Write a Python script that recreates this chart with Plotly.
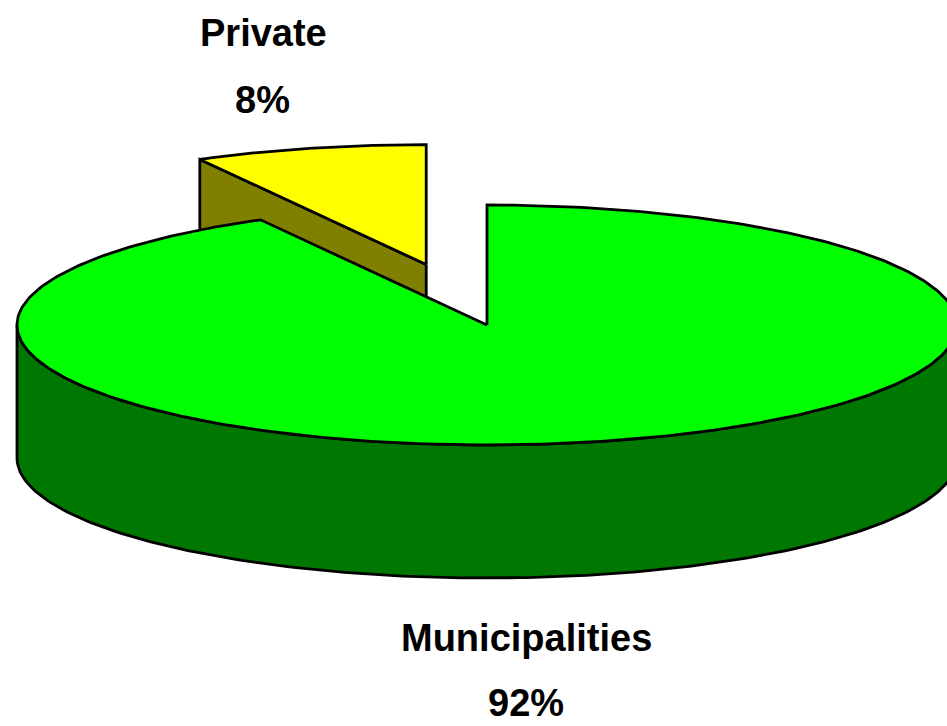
import numpy as np
import plotly.graph_objects as go

# ---- data ----
categories = ["Municipalities", "Private"]
values = [92, 8]
top_colors = ["#00FF00", "#FFFF00"]
side_colors = ["#007700", "#808000"]

# ---- geometry (layout constants, pixels) ----
W, H = 947, 726
cx, cy = 487, 325
rx, ry = 470, 120
depth = 133
explode = {"Private": 0.52, "Municipalities": 0.0}
start = 90.0  # 12 o'clock, counterclockwise

total = sum(values)
order = ["Private", "Municipalities"]
angles = {}
a = start
for name in order:
    v = values[categories.index(name)]
    span = 360.0 * v / total
    angles[name] = (a, a + span)
    a += span


def rim(theta_deg, ox, oy, dz=0.0):
    t = np.radians(theta_deg)
    return ox + cx + rx * np.cos(t), oy + cy - ry * np.sin(t) + dz


def arc(a0, a1, ox, oy, dz=0.0, n=200):
    th = np.linspace(a0, a1, n)
    xs, ys = rim(th, ox, oy, dz)
    return list(xs), list(ys)


def offset(name):
    a0, a1 = angles[name]
    mid = np.radians((a0 + a1) / 2)
    e = explode[name]
    return e * rx * np.cos(mid), -e * ry * np.sin(mid)


fig = go.Figure()


def poly(xs, ys, color):
    fig.add_trace(go.Scatter(
        x=xs + [xs[0]], y=ys + [ys[0]], mode="lines", fill="toself",
        fillcolor=color, line=dict(color="black", width=2.8),
        hoverinfo="skip", showlegend=False))


# Private slice (behind)
i = categories.index("Private")
ox, oy = offset("Private")
a0, a1 = angles["Private"]
vx, vy = cx + ox, cy + oy
rtx, rty = rim(a1, ox, oy)
rbx, rby = rim(a1, ox, oy, depth)
poly([vx, rtx, rbx, vx], [vy, rty, rby, vy + depth], side_colors[i])
xs, ys = arc(a0, a1, ox, oy)
poly([vx] + xs, [vy] + ys, top_colors[i])

# Municipalities slice
i = categories.index("Municipalities")
ox, oy = offset("Municipalities")
a0, a1 = angles["Municipalities"]
w0, w1 = max(a0, 180.0), min(a1, 360.0)
tx, ty = arc(w0, w1, ox, oy)
bx, by = arc(w1, w0, ox, oy, depth)
poly(tx + bx, ty + by, side_colors[i])
vx, vy = cx + ox, cy + oy
xs, ys = arc(a0, a1, ox, oy, n=400)
poly([vx] + xs, [vy] + ys, top_colors[i])

font = dict(family="Liberation Sans, Arial, sans-serif", size=38, color="black")
labels = [("Private", 263, 33), ("8%", 262, 100),
          ("Municipalities", 526, 638), ("92%", 526, 703)]
for txt, x, y in labels:
    fig.add_annotation(x=x, y=y, text=f"<b>{txt}</b>", showarrow=False,
                       xanchor="center", yanchor="middle", font=font)

fig.update_layout(
    width=W, height=H, margin=dict(l=0, r=0, t=0, b=0),
    paper_bgcolor="white", plot_bgcolor="white",
    xaxis=dict(range=[0, W], visible=False, fixedrange=True),
    yaxis=dict(range=[H, 0], visible=False, fixedrange=True),
)
fig.write_html("out.html", config={"displayModeBar": False},
               post_script="document.body.style.margin='0';document.body.style.overflow='hidden';")
